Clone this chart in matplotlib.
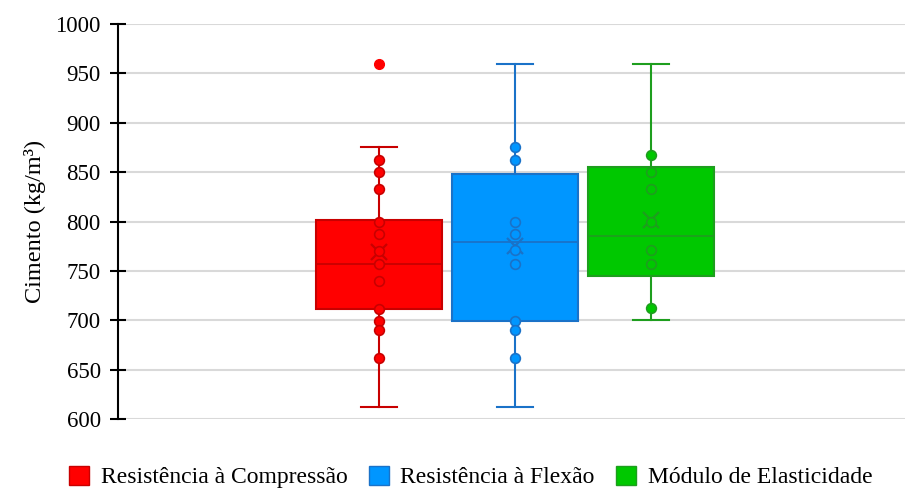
import matplotlib
matplotlib.use("Agg")
import matplotlib.pyplot as plt
from matplotlib.patches import Patch

#%% Daten
series = ["Resistência à Compressão", "Resistência à Flexão", "Módulo de Elasticidade"]
fill_colors = ["#FF0000", "#0096FF", "#00C800"]
edge_colors = ["#C80000", "#1A72C8", "#1E9E1E"]

q1 = [711, 699, 745]
median = [757, 779, 785]
q3 = [802, 848, 855]
whisker_low = [612, 612, 700]
whisker_high = [875, 960, 960]
mean = [769, 775, 802]

points_red = [862, 850, 833, 800, 787, 770, 757, 740, 711, 699, 690, 662]
points_blue = [875, 862, 800, 787, 771, 757, 699, 690, 662]
points_green = [867, 850, 833, 800, 771, 757, 712]
outliers_red = [960]
outliers_blue = []
outliers_green = []

points = [points_red, points_blue, points_green]
outliers = [outliers_red, outliers_blue, outliers_green]

y_ticks = [600, 650, 700, 750, 800, 850, 900, 950, 1000]

#%% Plot
plt.rcParams["font.family"] = ["Liberation Serif", "DejaVu Serif"]
fig = plt.figure(figsize=(9.05, 4.91), dpi=100)
ax = fig.add_axes([118 / 905, 1 - 419 / 491, 1 - 118 / 905, (419 - 24) / 491])

pos = [0, 1, 2]
for i in range(3):
    stats = [{
        "med": median[i], "q1": q1[i], "q3": q3[i],
        "whislo": whisker_low[i], "whishi": whisker_high[i],
        "mean": mean[i], "fliers": [],
    }]
    ax.bxp(stats, positions=[pos[i]], widths=0.92, patch_artist=True,
           showmeans=True, manage_ticks=False,
           boxprops=dict(facecolor=fill_colors[i], edgecolor=edge_colors[i], linewidth=1.5),
           medianprops=dict(color=edge_colors[i], linewidth=1.3),
           whiskerprops=dict(color=edge_colors[i], linewidth=1.5),
           capprops=dict(color=edge_colors[i], linewidth=1.5),
           capwidths=0.27,
           meanprops=dict(marker="x", markeredgecolor=edge_colors[i], markersize=11,
                          markeredgewidth=1.6),
           zorder=3)
    ax.plot([pos[i]] * len(points[i]), points[i], linestyle="", marker="o",
            markersize=7, markerfacecolor=fill_colors[i],
            markeredgecolor=edge_colors[i], markeredgewidth=1.2, zorder=4)
    if outliers[i]:
        ax.plot([pos[i]] * len(outliers[i]), outliers[i], linestyle="", marker="o",
                markersize=7, markerfacecolor=fill_colors[i],
                markeredgecolor=fill_colors[i], zorder=4)

ax.set_ylim(600, 1000)
ax.set_yticks(y_ticks)
ax.set_xlim(1 - 397 / 136, 1 - 397 / 136 + 787 / 136)
ax.set_xticks([])
ax.yaxis.grid(True, color="#D9D9D9", linewidth=1.5, zorder=0)
ax.set_axisbelow(True)
for s in ["top", "right", "bottom"]:
    ax.spines[s].set_visible(False)
ax.spines["left"].set_linewidth(1.5)
ax.tick_params(axis="y", direction="inout", length=11, width=1.5, labelsize=16.5, pad=7)
ax.set_ylabel("Cimento (kg/m³)", fontsize=17.5, labelpad=7)

handles = [Patch(facecolor=fill_colors[i], edgecolor=edge_colors[i], linewidth=1) for i in range(3)]
fig.legend(handles, series, loc="center", bbox_to_anchor=(0.52, 1 - 477 / 491), ncol=3,
           frameon=False, fontsize=17, handlelength=0.85, handleheight=0.85,
           handletextpad=0.5, columnspacing=0.9)

fig.savefig("out.png", dpi=100)
